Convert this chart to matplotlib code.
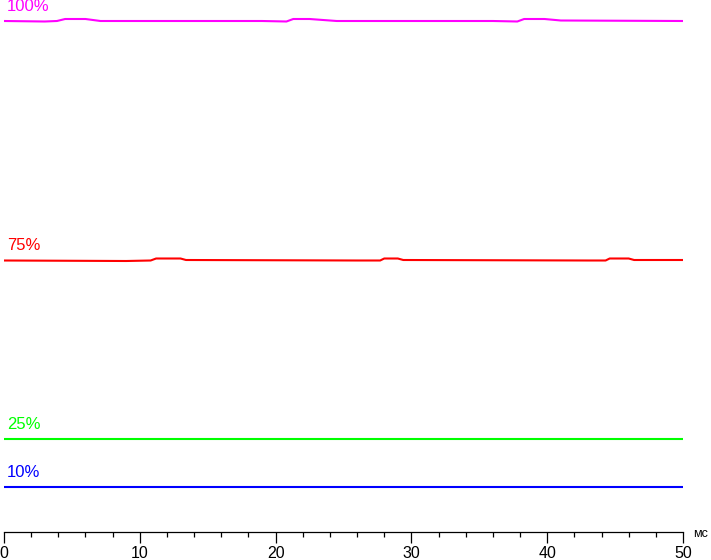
import matplotlib
matplotlib.use("Agg")
import matplotlib.pyplot as plt
from matplotlib.ticker import MultipleLocator

plt.rcParams['font.family'] = ['Liberation Sans', 'DejaVu Sans']

# brightness levels (label, colour) and traces
labels = ["100%", "75%", "25%", "10%"]
colors = ["#ff00ff", "#ff0000", "#00ff00", "#0000ff"]

t_100 = [0, 3.0, 3.9, 4.5, 6.0, 7.1, 19.0, 20.8, 21.3, 22.5, 23.5, 24.5, 36.0, 37.8, 38.3, 39.8, 41.0, 50]
y_100 = [511, 510.5, 511, 513, 513, 511, 511, 510.5, 513, 513, 512, 511, 511, 510.5, 513, 513, 511.5, 511]

t_75 = [0, 9.0, 10.8, 11.2, 13.0, 13.4, 26.0, 27.7, 28.0, 29.0, 29.4, 43.0, 44.3, 44.6, 46.0, 46.4, 50]
y_75 = [271.5, 271, 271.5, 273.5, 273.5, 272, 271.5, 271.5, 273.5, 273.5, 272, 271.5, 271.5, 273.5, 273.5, 272, 272]

t_25 = [0, 50]
y_25 = [93, 93]

t_10 = [0, 50]
y_10 = [45, 45]

times = [t_100, t_75, t_25, t_10]
levels = [y_100, y_75, y_25, y_10]

fig = plt.figure(figsize=(7.11, 5.60), dpi=100)
ax = fig.add_axes([4 / 711, 28 / 560, 679 / 711, 532 / 560])

for t, y, lab, c in zip(times, levels, labels, colors):
    ax.plot(t, y, color=c, linewidth=1.5, solid_capstyle='butt')
    ax.text(0.22, y[0] + 10, lab, color=c, fontsize=12, va='baseline', ha='left')

ax.set_xlim(0, 50)
ax.set_ylim(0, 532)
for s in ["left", "right", "top"]:
    ax.spines[s].set_visible(False)
ax.spines["bottom"].set_linewidth(0.9)
ax.set_yticks([])
ax.xaxis.set_major_locator(MultipleLocator(10))
ax.xaxis.set_minor_locator(MultipleLocator(2))
ax.tick_params(axis='x', which='major', length=8, width=0.9, labelsize=11.5, pad=2)
ax.tick_params(axis='x', which='minor', length=3.6, width=0.9)
ax.patch.set_visible(False)

fig.text(693 / 711, 23 / 560, "мс", fontsize=9, va='baseline', ha='left')

plt.savefig("out.png", dpi=100)
